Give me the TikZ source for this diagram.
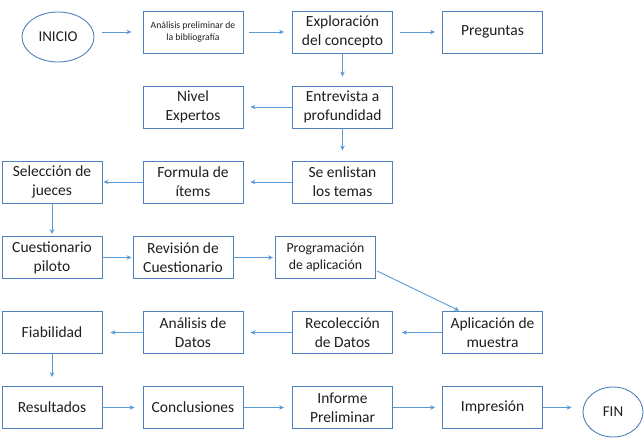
\documentclass[tikz,border=0pt]{standalone}
\usepackage{fontspec}
\setmainfont{Carlito}
\usetikzlibrary{arrows.meta,shapes.geometric}
\definecolor{boxline}{RGB}{79,129,189}
\definecolor{arrowline}{RGB}{91,155,213}
\definecolor{txt}{RGB}{30,30,30}
\tikzset{
  stepbox/.style={draw=boxline,line width=0.9pt,minimum width=100pt,minimum height=42pt,
    inner sep=1pt,align=center,text=txt,font=\fontsize{15.5}{19}\selectfont},
  endbox/.style={ellipse,draw=boxline,line width=0.9pt,inner sep=0pt,text=txt,
    font=\fontsize{15}{19}\selectfont},
  flow/.style={draw=arrowline,line width=0.9pt,-{Stealth[length=5pt,width=4.5pt]},shorten >=7pt}
}
\begin{document}
\begin{tikzpicture}[x=1pt,y=1pt]
\useasboundingbox (0,0) rectangle (644,440);
% row 1
\node[endbox,minimum width=72pt,minimum height=50pt] (ini) at (58,403) {INICIO};
\node[stepbox,font=\fontsize{9.7}{11.5}\selectfont] (ana) at (193,408) {Análisis preliminar de\\la bibliografía};
\node[stepbox] (exp) at (342.5,408) {Exploración\\del concepto};
\node[stepbox] (pre) at (492.5,408) {Preguntas};
% row 2
\node[stepbox] (niv) at (193,333) {Nivel\\Expertos};
\node[stepbox] (ent) at (342.5,333) {Entrevista a\\profundidad};
% row 3
\node[stepbox] (selj) at (52,258) {Selección de\\jueces};
\node[stepbox] (for) at (193,258) {Formula de\\ítems};
\node[stepbox] (enl) at (342.5,258) {Se enlistan\\los temas};
% row 4
\node[stepbox] (cue) at (52,182.5) {Cuestionario\\piloto};
\node[stepbox] (rev) at (183,182.5) {Revisión de\\Cuestionario};
\node[stepbox,font=\fontsize{13.8}{16.5}\selectfont] (prog) at (325.5,182.5) {Programación\\de aplicación};
% row 5
\node[stepbox] (fia) at (52,107.5) {Fiabilidad};
\node[stepbox] (anD) at (193,107.5) {Análisis de\\Datos};
\node[stepbox] (rec) at (342.5,107.5) {Recolección\\de Datos};
\node[stepbox] (apl) at (492.5,107.5) {Aplicación de\\muestra};
% row 6
\node[stepbox] (res) at (52,32.5) {Resultados};
\node[stepbox] (con) at (193,32.5) {Conclusiones};
\node[stepbox] (inf) at (342.5,32.5) {Informe\\Preliminar};
\node[stepbox] (imp) at (492.5,32.5) {Impresión};
\node[endbox,minimum width=60pt,minimum height=50pt] (fin) at (613,28) {FIN};
% arrows
\draw[flow,shorten <=8pt,shorten >=11pt] (ini.east |- ana.west) -- (ana.west);
\draw[flow,shorten <=6pt,shorten >=8pt] (ana) -- (exp);
\draw[flow,shorten <=7pt] (exp) -- (pre);
\draw[flow,shorten >=9pt] (exp) -- (ent);
\draw[flow] (ent) -- (niv);
\draw[flow,shorten >=10pt] (ent) -- (enl);
\draw[flow] (enl) -- (for);
\draw[flow,shorten >=1pt] (for) -- (selj);
\draw[flow,shorten >=2pt] (selj) -- (cue);
\draw[flow,shorten >=1pt] (cue) -- (rev);
\draw[flow,shorten >=2pt] (rev) -- (prog);
\draw[flow,shorten >=1pt] ([shift={(1pt,8pt)}]prog.south east) -- ([xshift=-32.5pt]apl.north);
\draw[flow,shorten >=9pt] (apl) -- (rec);
\draw[flow] (rec) -- (anD);
\draw[flow,shorten >=8pt] (anD) -- (fia);
\draw[flow,shorten >=9pt] (fia) -- (res);
\draw[flow,shorten >=8pt] (res) -- (con);
\draw[flow,shorten >=8pt] (con) -- (inf);
\draw[flow] (inf) -- (imp);
\draw[flow,shorten >=11pt] (imp) -- (imp -| fin.west);
\end{tikzpicture}
\end{document}
